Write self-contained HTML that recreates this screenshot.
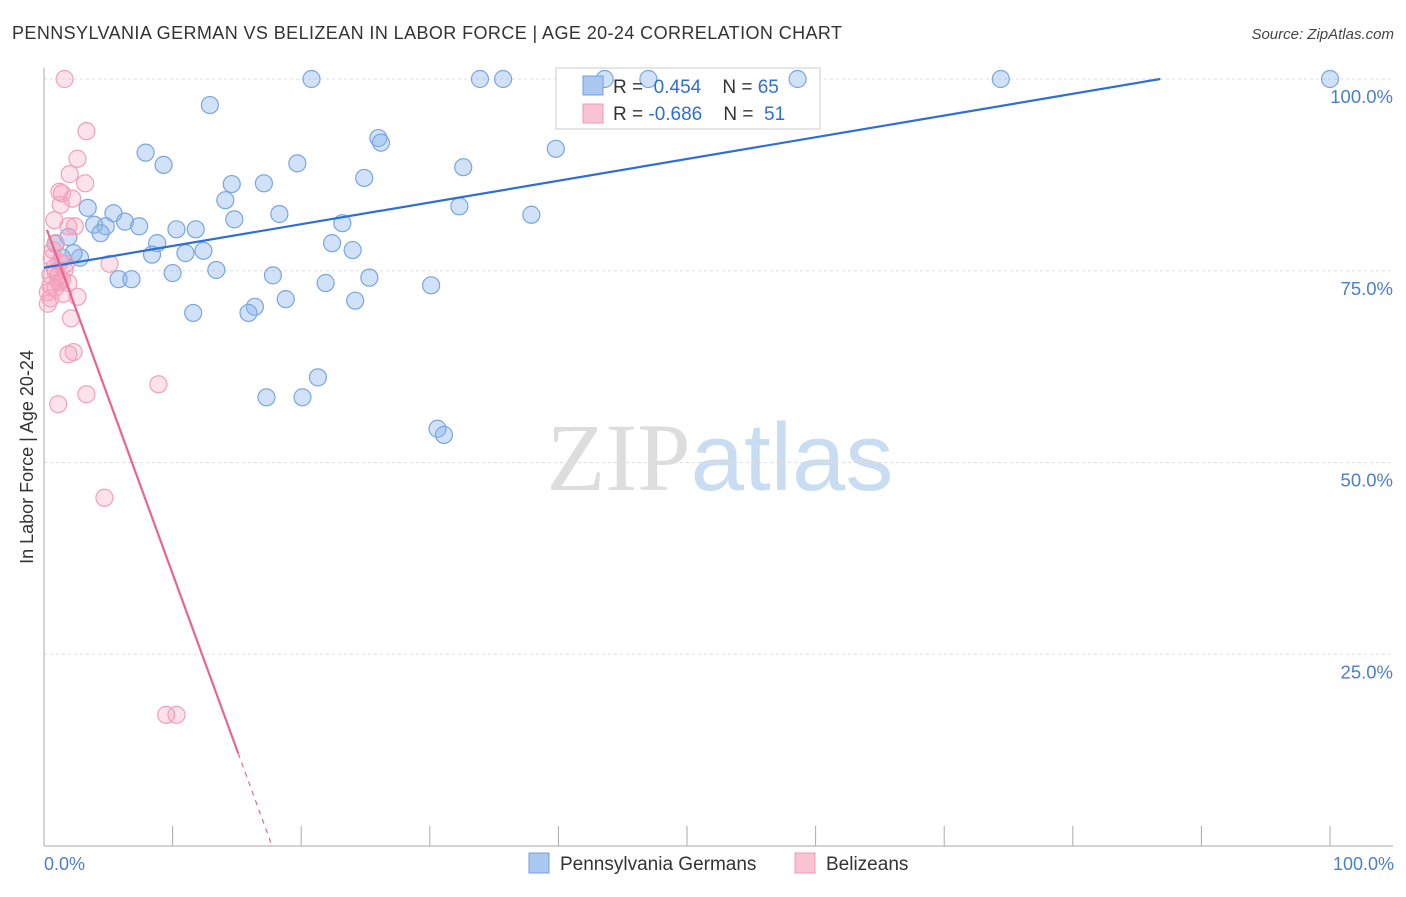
<!DOCTYPE html>
<html><head><meta charset="utf-8"><style>
body{margin:0;background:#fff;font-family:"Liberation Sans",sans-serif}
svg text{font-family:"Liberation Sans",sans-serif}
</style></head><body>
<svg id="chart" width="1406" height="892" viewBox="0 0 1406 892">
<text x="12" y="39" font-size="18" fill="#333" textLength="830" lengthAdjust="spacing">PENNSYLVANIA GERMAN VS BELIZEAN IN LABOR FORCE | AGE 20-24 CORRELATION CHART</text>
<text x="1394" y="39" font-size="15" fill="#444" text-anchor="end" font-style="italic">Source: ZipAtlas.com</text>
<text x="720" y="490" font-size="96" text-anchor="middle"><tspan fill="#ddd" font-family="Liberation Serif">ZIP</tspan><tspan fill="#c8dcf2">atlas</tspan></text>
<g id="grid"></g>
<line x1="44" y1="68" x2="44" y2="846" stroke="#aaa"/>
<line x1="44" y1="846" x2="1393" y2="846" stroke="#aaa"/>
<text transform="translate(33,457) rotate(-90)" font-size="18" fill="#333" text-anchor="middle">In Labor Force | Age 20-24</text>
<text x="44" y="870" font-size="18" fill="#4a7fd0">0.0%</text>
<text x="1394" y="870" font-size="18" fill="#4a7fd0" text-anchor="end">100.0%</text>
<rect x="556" y="68" width="264" height="61" fill="#fff" stroke="#ccc"/>
<g id="marks"></g>
<g>
<rect x="583" y="76" width="20" height="19" fill="#aac8f0" stroke="#6fa0e0"/>
<rect x="583" y="104" width="20" height="19" fill="#f8c4d4" stroke="#f09ab4"/>
<text x="613" y="93" font-size="19" fill="#333">R = <tspan fill="#2d6ed8">&#160;0.454</tspan>&#160;&#160;&#160; N = <tspan fill="#2d6ed8">65</tspan></text>
<text x="613" y="120" font-size="19" fill="#333">R = <tspan fill="#2d6ed8">-0.686</tspan>&#160;&#160;&#160; N = <tspan fill="#2d6ed8">&#160;51</tspan></text>
</g>
<g>
<rect x="529" y="853" width="20" height="20" fill="#aac8f0" stroke="#6fa0e0"/>
<text x="560" y="870" font-size="19" fill="#333">Pennsylvania Germans</text>
<rect x="795" y="853" width="20" height="20" fill="#f8c4d4" stroke="#f09ab4"/>
<text x="826" y="870" font-size="19" fill="#333">Belizeans</text>
</g>
</svg>
<script>
const yTicks=[100,75,50,25];
const yTickLabels=["100.0%","75.0%","50.0%","25.0%"];
const xTicks=[0,10,20,30,40,50,60,70,80,90,100];
const blueX=[20.8,33.9,35.7,43.6,47.0,58.6,74.4,100,12.9,7.9,9.3,19.7,26.0,26.2,32.6,39.8,24.9,14.6,17.1,14.1,18.3,14.8,32.3,37.9,23.2,3.4,5.4,6.3,7.4,3.9,4.8,4.4,1.9,0.9,8.8,10.3,11.8,22.4,24.0,8.4,11.0,12.4,2.8,2.3,10.0,13.4,17.8,25.3,5.8,6.8,21.9,30.1,18.8,24.2,16.4,11.6,15.9,21.3,17.3,20.1,30.6,31.1,1.4];
const blueY=[100,100,100,100,100,100,100,100,96.6,90.4,88.8,89.0,92.3,91.7,88.5,90.9,87.1,86.3,86.4,84.2,82.4,81.7,83.4,82.3,81.2,83.2,82.5,81.4,80.8,81.0,80.8,79.9,79.4,78.5,78.6,80.4,80.4,78.6,77.7,77.1,77.3,77.6,76.7,77.3,74.7,75.1,74.4,74.1,73.9,73.9,73.4,73.1,71.3,71.1,70.3,69.5,69.5,61.1,58.5,58.5,54.4,53.6,76.7];
const pinkX=[1.6,3.3,2.6,2.0,3.2,1.2,1.4,2.2,1.3,0.8,1.9,2.4,0.9,0.7,0.6,1.2,1.7,5.1,0.8,1.6,1.1,1.2,1.9,0.5,0.9,0.3,1.5,2.6,0.5,0.3,2.1,2.3,1.9,1.1,3.3,8.9,4.7,9.5,10.3,0.9,1.4,0.5];
const pinkY=[100,93.2,89.6,87.6,86.4,85.3,85.1,84.4,83.6,81.6,80.8,80.8,78.6,77.7,76.7,76.1,75.9,75.9,75.4,75.1,74.3,73.5,73.4,73.1,72.8,72.2,72.0,71.6,71.4,70.7,68.8,64.4,64.1,57.6,58.9,60.2,45.4,17.1,17.1,74.8,73.8,74.5];
const blueTrend=[75.4,0.2834];
const pinkTrend=[81.4,-4.59];
const NS="http://www.w3.org/2000/svg";
const sx=v=>44+v*12.86;
const sy=v=>846-v*7.67;
const grid=document.getElementById('grid');
const marks=document.getElementById('marks');
function mk(tag,attrs,parent){const e=document.createElementNS(NS,tag);for(const k in attrs)e.setAttribute(k,attrs[k]);parent.appendChild(e);return e;}
yTicks.forEach((t,i)=>{
 const l=mk('line',{x1:44,x2:1393,y1:sy(t),y2:sy(t),stroke:'#ddd','stroke-dasharray':'3,3'},grid);
 
 
 const tx=mk('text',{x:1393,y:sy(t)+24,'font-size':18.5,fill:'#4a7fd0','text-anchor':'end'},grid);
 tx.textContent=yTickLabels[i];
 
 
});
xTicks.forEach(t=>{
 const l=mk('line',{x1:sx(t),x2:sx(t),y1:826,y2:846,stroke:'#aaa'},grid);
 
 
});
blueX.forEach((x,i)=>{
 const c=mk('circle',{cx:sx(x),cy:sy(blueY[i]),r:8.5,fill:'rgba(140,180,235,0.4)',stroke:'#78a6e2','stroke-width':1.2},marks);
 
 
});
pinkX.forEach((x,i)=>{
 const c=mk('circle',{cx:sx(x),cy:sy(pinkY[i]),r:8.5,fill:'rgba(245,160,188,0.3)',stroke:'#f2a0ba','stroke-width':1.2},marks);
 
 
});
const bx2=(100-blueTrend[0])/blueTrend[1];
const bl=mk('line',{x1:sx(0),y1:sy(blueTrend[0]),x2:sx(bx2),y2:sy(100),stroke:'#2d6ed8','stroke-width':2.2},marks);


const p0=0.23,p1=15.1,p2=-pinkTrend[0]/pinkTrend[1];
const pl=mk('line',{x1:sx(p0),y1:sy(pinkTrend[0]+pinkTrend[1]*p0),x2:sx(p1),y2:sy(pinkTrend[0]+pinkTrend[1]*p1),stroke:'#e8658f','stroke-width':2.2},marks);


const pd=mk('line',{x1:sx(p1),y1:sy(pinkTrend[0]+pinkTrend[1]*p1),x2:sx(p2),y2:sy(0),stroke:'#e8658f','stroke-width':1.2,'stroke-dasharray':'5,5'},marks);


</script>
</body></html>
